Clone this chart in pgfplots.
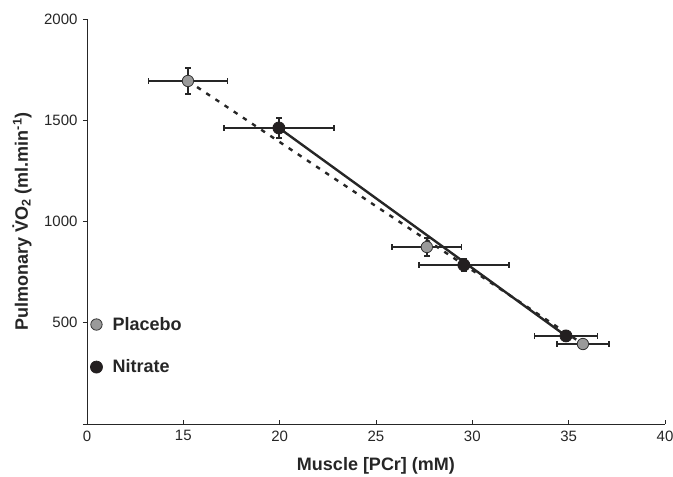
\documentclass[border=0pt]{standalone}
\usepackage{pgfplots}
\pgfplotsset{compat=1.18}
\usepackage{fontspec}
\setmainfont{Liberation Sans}
\definecolor{plac}{HTML}{9A9A9A}
\definecolor{nitr}{HTML}{231F20}
\begin{document}
\begin{tikzpicture}
\begin{axis}[
  name=ax,
  scale only axis, width=578pt, height=405pt,
  xmin=10, xmax=40, ymin=0, ymax=2000,
  axis lines=left, axis line style={-, line width=0.8pt, black!85},
  xtick={10,15,...,40}, xticklabels={0,15,20,25,30,35,40},
  ytick={0,500,...,2000}, yticklabels={,500,1000,1500,2000},
  tick align=inside, major tick length=4pt,
  y tick style={xshift=-4pt},
  tick style={black!85, line width=0.8pt},
  /pgf/number format/assume math mode=true,
  /pgf/number format/1000 sep={},
  ticklabel style={font=\fontsize{15}{17}\selectfont, text=black!85},
  xticklabel style={yshift=-3pt},
  yticklabel style={xshift=-6pt},
  xlabel={Muscle [PCr] (mM)},
  ylabel={Pulmonary \.{V}O\textsubscript{2} (ml.min\textsuperscript{-1})},
  every axis x label/.style={at={(rel axis cs:0.5,0)}, yshift=-42pt, anchor=center},
  every axis y label/.style={at={(rel axis cs:0,0.5)}, xshift=-65pt, anchor=center, rotate=90},
  label style={font=\fontsize{18}{20}\selectfont\bfseries, text=black!85},
  legend style={at={(axis cs:10.17,538)}, anchor=north west, draw=none, fill=none,
    font=\fontsize{18}{20}\selectfont\bfseries, text=black!85,
    row sep=24pt, inner sep=0pt},
  legend cell align=left,
  legend image code/.code={\path (0pt,0pt) (18pt,0pt);\draw[mark repeat=1,#1] plot coordinates {(4pt,0pt)};},
  clip=false,
]
% trend lines
\addplot[forget plot, dash pattern=on 4.5pt off 6.5pt, line width=2.4pt, black!85]
  coordinates {(15.24,1694) (35.74,395)};
\addplot[forget plot, line width=2.4pt, black!85]
  coordinates {(19.96,1462) (34.86,435)};
% Placebo
\addplot[only marks, mark=*, mark size=5.7pt,
  mark options={fill=plac, draw=black!80, line width=0.8pt},
  error bars/.cd, x dir=both, x explicit, y dir=both, y explicit,
  error bar style={line width=1.6pt, black!85},
  error mark options={rotate=90, line width=1.6pt, black!85, mark size=2.7pt}]
  coordinates {
    (15.24,1694) +- (2.05,65)
    (27.64,874) +- (1.80,45)
    (35.74,395) +- (1.35,15)
  };
\addlegendentry{Placebo}
% Nitrate
\addplot[only marks, mark=*, mark size=6pt,
  mark options={fill=nitr, draw=nitr, line width=0.8pt},
  error bars/.cd, x dir=both, x explicit, y dir=both, y explicit,
  error bar style={line width=1.6pt, black!85},
  error mark options={rotate=90, line width=1.6pt, black!85, mark size=2.7pt}]
  coordinates {
    (19.96,1462) +- (2.85,50)
    (29.56,785) +- (2.33,30)
    (34.86,435) +- (1.63,15)
  };
\addlegendentry{Nitrate}
\end{axis}
\pgfresetboundingbox
\path[use as bounding box] ([xshift=-87pt,yshift=-53pt]ax.south west) rectangle ([xshift=8pt,yshift=19pt]ax.north east);
\end{tikzpicture}
\end{document}
